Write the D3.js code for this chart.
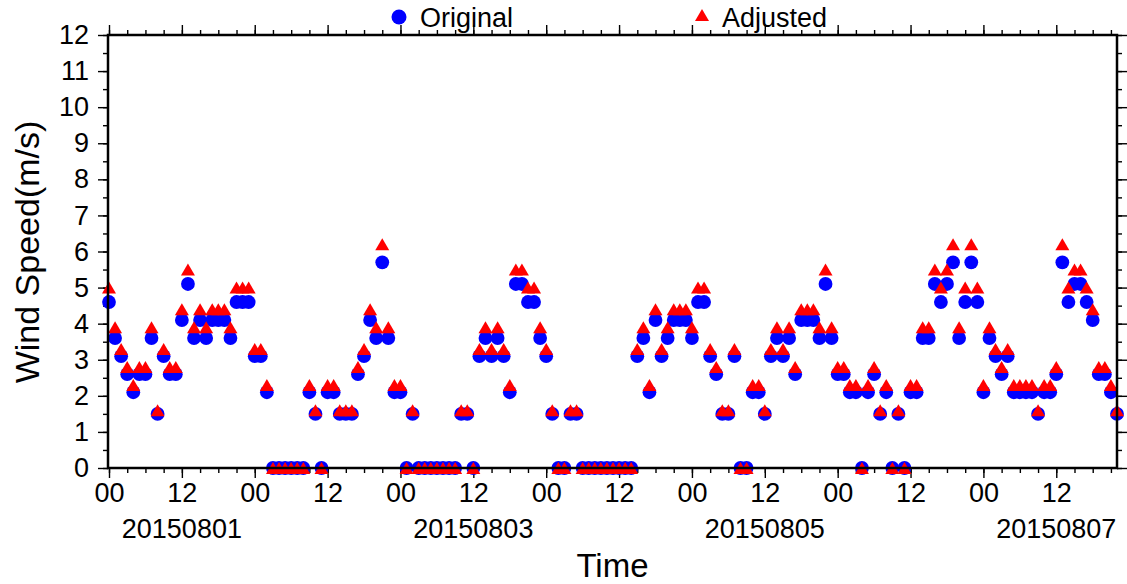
<!DOCTYPE html>
<html>
<head>
<meta charset="utf-8">
<script src="https://cdn.jsdelivr.net/npm/d3@7"></script>
<style>
  body { margin: 0; background: #fff; }
  text { font-family: "Liberation Sans", Arial, Helvetica, sans-serif; fill: #000; }
</style>
</head>
<body>
<svg id="chart"></svg>
<script>
// hourly wind speed, 2015-08-01 00h onward (m/s)
const original = [
  4.6, 3.6, 3.1, 2.6, 2.1, 2.6, 2.6, 3.6, 1.5, 3.1,
  2.6, 2.6, 4.1, 5.1, 3.6, 4.1, 3.6, 4.1, 4.1, 4.1,
  3.6, 4.6, 4.6, 4.6, 3.1, 3.1, 2.1, 0, 0, 0,
  0, 0, 0, 2.1, 1.5, 0, 2.1, 2.1, 1.5, 1.5,
  1.5, 2.6, 3.1, 4.1, 3.6, 5.7, 3.6, 2.1, 2.1, 0,
  1.5, 0, 0, 0, 0, 0, 0, 0, 1.5, 1.5,
  0, 3.1, 3.6, 3.1, 3.6, 3.1, 2.1, 5.1, 5.1, 4.6,
  4.6, 3.6, 3.1, 1.5, 0, 0, 1.5, 1.5, 0, 0,
  0, 0, 0, 0, 0, 0, 0, 3.1, 3.6, 2.1,
  4.1, 3.1, 3.6, 4.1, 4.1, 4.1, 3.6, 4.6, 4.6, 3.1,
  2.6, 1.5, 1.5, 3.1, 0, 0, 2.1, 2.1, 1.5, 3.1,
  3.6, 3.1, 3.6, 2.6, 4.1, 4.1, 4.1, 3.6, 5.1, 3.6,
  2.6, 2.6, 2.1, 2.1, 0, 2.1, 2.6, 1.5, 2.1, 0,
  1.5, 0, 2.1, 2.1, 3.6, 3.6, 5.1, 4.6, 5.1, 5.7,
  3.6, 4.6, 5.7, 4.6, 2.1, 3.6, 3.1, 2.6, 3.1, 2.1,
  2.1, 2.1, 2.1, 1.5, 2.1, 2.1, 2.6, 5.7, 4.6, 5.1,
  5.1, 4.6, 4.1, 2.6, 2.6, 2.1, 1.5
];
const adjusted = [
  5.0, 3.9, 3.3, 2.8, 2.3, 2.8, 2.8, 3.9, 1.6, 3.3,
  2.8, 2.8, 4.4, 5.5, 3.9, 4.4, 3.9, 4.4, 4.4, 4.4,
  3.9, 5.0, 5.0, 5.0, 3.3, 3.3, 2.3, 0, 0, 0,
  0, 0, 0, 2.3, 1.6, 0, 2.3, 2.3, 1.6, 1.6,
  1.6, 2.8, 3.3, 4.4, 3.9, 6.2, 3.9, 2.3, 2.3, 0,
  1.6, 0, 0, 0, 0, 0, 0, 0, 1.6, 1.6,
  0, 3.3, 3.9, 3.3, 3.9, 3.3, 2.3, 5.5, 5.5, 5.0,
  5.0, 3.9, 3.3, 1.6, 0, 0, 1.6, 1.6, 0, 0,
  0, 0, 0, 0, 0, 0, 0, 3.3, 3.9, 2.3,
  4.4, 3.3, 3.9, 4.4, 4.4, 4.4, 3.9, 5.0, 5.0, 3.3,
  2.8, 1.6, 1.6, 3.3, 0, 0, 2.3, 2.3, 1.6, 3.3,
  3.9, 3.3, 3.9, 2.8, 4.4, 4.4, 4.4, 3.9, 5.5, 3.9,
  2.8, 2.8, 2.3, 2.3, 0, 2.3, 2.8, 1.6, 2.3, 0,
  1.6, 0, 2.3, 2.3, 3.9, 3.9, 5.5, 5.0, 5.5, 6.2,
  3.9, 5.0, 6.2, 5.0, 2.3, 3.9, 3.3, 2.8, 3.3, 2.3,
  2.3, 2.3, 2.3, 1.6, 2.3, 2.3, 2.8, 6.2, 5.0, 5.5,
  5.5, 5.0, 4.4, 2.8, 2.8, 2.3, 1.6
];
const yTickValues = [0, 1, 2, 3, 4, 5, 6, 7, 8, 9, 10, 11, 12];
const hourLabels = ["00", "12"];
const dateLabels = ["20150801", "20150803", "20150805", "20150807"];
const dateLabelHours = [12, 60, 108, 156];

const W = 1127, H = 584;
const frame = { left: 108, right: 1117, top: 35, bottom: 468 };

const svg = d3.select("#chart")
  .attr("width", W)
  .attr("height", H)
  .attr("viewBox", [0, 0, W, H]);

const x = d3.scaleLinear()
  .domain([0, original.length - 1])
  .range([frame.left + 1, frame.right]);

const y = d3.scaleLinear()
  .domain([0, 12])
  .range([frame.bottom, frame.top]);

// axes
const majorX = d3.range(0, original.length, 12);
const minorX = d3.range(0, original.length, 3);
const minorY = d3.range(0, 12.01, 0.5);

const styleAxis = g => {
  g.select(".domain").remove();
  g.selectAll("line").attr("stroke", "#000").attr("stroke-width", 1.4);
  g.selectAll("text").attr("font-size", 27).style("font-family", "'Liberation Sans', Arial, sans-serif");
};

svg.append("g")
  .attr("transform", `translate(0,${frame.bottom})`)
  .call(d3.axisBottom(x).tickValues(minorX).tickSize(5).tickFormat(""))
  .call(styleAxis);

svg.append("g")
  .attr("transform", `translate(0,${frame.bottom})`)
  .call(d3.axisBottom(x).tickValues(majorX).tickSize(10).tickPadding(5)
    .tickFormat(h => hourLabels[(h % 24) / 12]))
  .call(styleAxis);

svg.append("g")
  .attr("transform", `translate(0,${frame.top})`)
  .call(d3.axisTop(x).tickValues(minorX).tickSize(5).tickFormat(""))
  .call(styleAxis);

svg.append("g")
  .attr("transform", `translate(0,${frame.top})`)
  .call(d3.axisTop(x).tickValues(majorX).tickSize(10).tickFormat(""))
  .call(styleAxis);

svg.append("g")
  .attr("transform", `translate(${frame.left},0)`)
  .call(d3.axisLeft(y).tickValues(minorY).tickSize(5).tickFormat(""))
  .call(styleAxis);

svg.append("g")
  .attr("transform", `translate(${frame.left},0)`)
  .call(d3.axisLeft(y).tickValues(yTickValues).tickSize(10).tickPadding(9))
  .call(styleAxis);

svg.append("g")
  .attr("transform", `translate(${frame.right},0)`)
  .call(d3.axisRight(y).tickValues(minorY).tickSize(5).tickFormat(""))
  .call(styleAxis);

svg.append("g")
  .attr("transform", `translate(${frame.right},0)`)
  .call(d3.axisRight(y).tickValues(yTickValues).tickSize(10).tickFormat(""))
  .call(styleAxis);

// date labels under noon of odd days
svg.append("g")
  .selectAll("text")
  .data(dateLabels)
  .join("text")
  .attr("x", (d, i) => x(dateLabelHours[i]))
  .attr("y", 538)
  .attr("text-anchor", "middle")
  .attr("font-size", 27)
  .text(d => d);

svg.append("text")
  .attr("x", (frame.left + frame.right) / 2)
  .attr("y", 577)
  .attr("text-anchor", "middle")
  .attr("font-size", 33)
  .text("Time");

svg.append("text")
  .attr("transform", "translate(39,252) rotate(-90)")
  .attr("text-anchor", "middle")
  .attr("font-size", 34)
  .text("Wind Speed(m/s)");

// points
const triangle = (w, h) => `M0,${-h / 2}L${w / 2},${h / 2}L${-w / 2},${h / 2}Z`;

svg.append("g")
  .selectAll("circle")
  .data(original)
  .join("circle")
  .attr("cx", (d, i) => x(i))
  .attr("cy", d => y(d))
  .attr("r", 6.9)
  .attr("fill", "#0000ff");

svg.append("g")
  .selectAll("path")
  .data(adjusted)
  .join("path")
  .attr("transform", (d, i) => `translate(${x(i)},${y(d)})`)
  .attr("d", triangle(14, 12))
  .attr("fill", "#ff0000");

// frame
svg.append("rect")
  .attr("x", frame.left)
  .attr("y", frame.top)
  .attr("width", frame.right - frame.left)
  .attr("height", frame.bottom - frame.top)
  .attr("fill", "none")
  .attr("stroke", "#000")
  .attr("stroke-width", 2.5);

// legend
const legend = svg.append("g");
legend.append("circle").attr("cx", 399).attr("cy", 17).attr("r", 7.5).attr("fill", "#0000ff");
legend.append("text").attr("x", 420).attr("y", 27).attr("font-size", 27).text("Original");
legend.append("path").attr("transform", "translate(702,15)").attr("d", triangle(14, 12)).attr("fill", "#ff0000");
legend.append("text").attr("x", 722).attr("y", 27).attr("font-size", 27).text("Adjusted");
</script>
</body>
</html>
